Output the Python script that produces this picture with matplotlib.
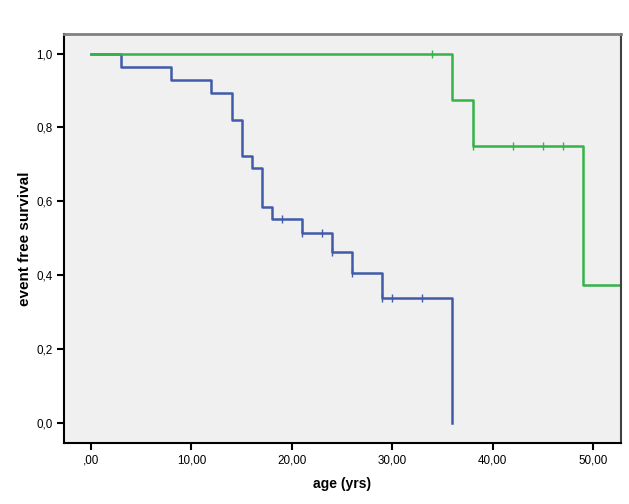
import matplotlib
matplotlib.use("Agg")
import matplotlib.pyplot as plt
from matplotlib.ticker import FuncFormatter

# Kaplan-Meier curves
blue_times = [0, 3, 8, 12, 14, 15, 16, 17, 18, 21, 24, 26, 29, 36]
blue_surv = [1.0, 0.964, 0.929, 0.893, 0.821, 0.723, 0.690, 0.586, 0.552, 0.515, 0.463, 0.405, 0.338, 0.0]
blue_censor = [19, 21, 23, 24, 26, 29, 30, 33]

green_times = [0, 36, 38, 49, 53]
green_surv = [1.0, 0.875, 0.75, 0.375, 0.375]
green_censor = [34, 38, 42, 45, 47]

x_ticks = [0, 10, 20, 30, 40, 50]
y_ticks = [0.0, 0.2, 0.4, 0.6, 0.8, 1.0]

blue = "#3f5ba9"
green = "#34b448"

plt.rcParams["font.family"] = ["Liberation Sans", "DejaVu Sans"]


def level_at(times, surv, t):
    val = surv[0]
    for ti, si in zip(times, surv):
        if ti <= t:
            val = si
    return val


fig = plt.figure(figsize=(6.29, 5.04), dpi=100)
ax = fig.add_axes([0.1013, 0.121, 0.886, 0.8115])
ax.set_facecolor("#f0f0f0")

ax.plot(blue_times, blue_surv, drawstyle="steps-post", color=blue, lw=1.8)
ax.plot(green_times, green_surv, drawstyle="steps-post", color=green, lw=1.8)

ax.plot(blue_censor, [level_at(blue_times, blue_surv, t) for t in blue_censor],
        ls="none", marker="|", ms=6, mew=1.0, color=blue)
ax.plot(green_censor, [level_at(green_times, green_surv, t) for t in green_censor],
        ls="none", marker="|", ms=6, mew=1.0, color=green)

ax.set_xlim(-2.72, 52.79)
ax.set_ylim(-0.054, 1.053)
ax.set_xticks(x_ticks)
ax.set_yticks(y_ticks)


def fmt_x(v, pos):
    s = "%.2f" % v
    if s.startswith("0"):
        s = s[1:]
    return s.replace(".", ",")


def fmt_y(v, pos):
    return ("%.1f" % v).replace(".", ",")


ax.xaxis.set_major_formatter(FuncFormatter(fmt_x))
ax.yaxis.set_major_formatter(FuncFormatter(fmt_y))
ax.tick_params(direction="out", length=5, width=1.5, labelsize=8.4, pad=3)

ax.spines["left"].set_linewidth(1.5)
ax.spines["bottom"].set_linewidth(1.5)
ax.spines["top"].set_color("#808080")
ax.spines["top"].set_linewidth(2)
ax.spines["right"].set_color("#404040")
ax.spines["right"].set_linewidth(1.5)

ax.set_xlabel("age (yrs)", fontsize=10, fontweight="bold", labelpad=8)
ax.set_ylabel("event free survival", fontsize=11, fontweight="bold", labelpad=3)

fig.savefig("out.png", dpi=100)
